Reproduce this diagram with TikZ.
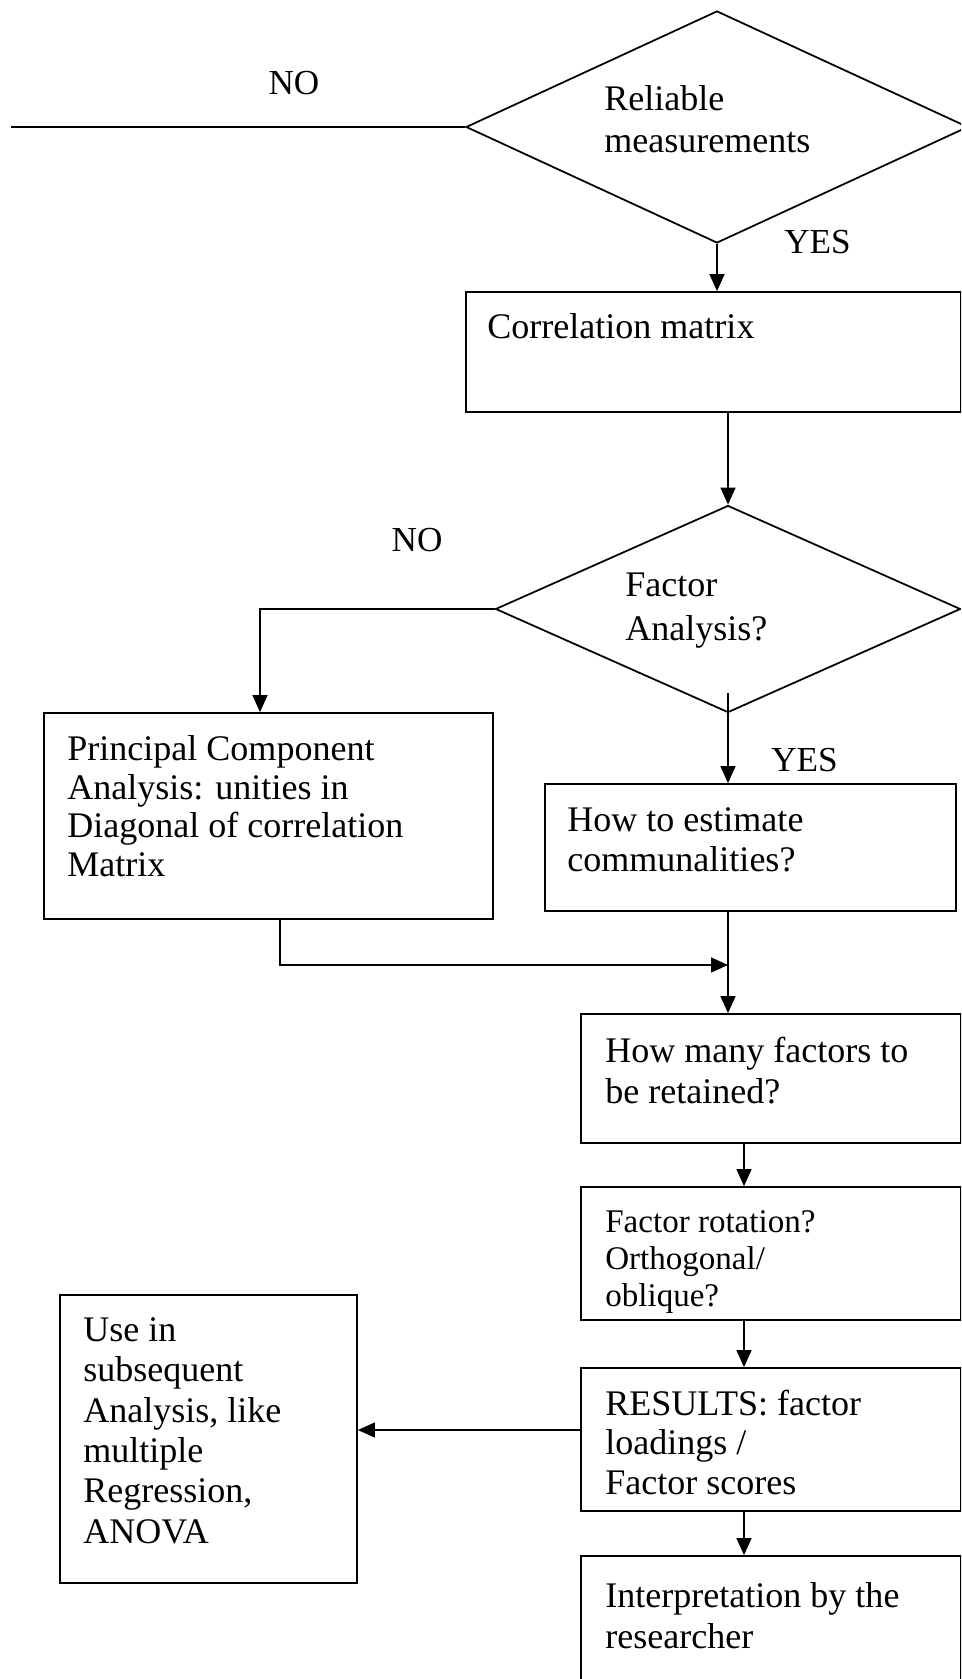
\documentclass[tikz,border=0pt]{standalone}
\usepackage{fontspec}
\setmainfont{Liberation Serif}
\usetikzlibrary{shapes.geometric, arrows.meta}

\begin{document}
\begin{tikzpicture}[
    box/.style={draw, line width=1pt, inner sep=0pt},
    dia/.style={draw, diamond, line width=1pt, inner sep=0pt},
    txt/.style={anchor=north west, align=left, inner sep=0pt, font=\fontsize{20.5}{23}\selectfont},
    lbl/.style={inner sep=0pt, font=\fontsize{20}{23}\selectfont},
    arr/.style={line width=0.8pt, -{Triangle[length=3.4mm, width=3mm]}}
]
    % Page size
    \useasboundingbox (0,0) rectangle (19.22,-33.58);
    \clip (0,0) rectangle (19.22,-33.58);
    % Decisions
    \node[dia, minimum width=10.04cm, minimum height=4.64cm] (rel) at (14.34,-2.54) {};
    \node[dia, minimum width=9.3cm, minimum height=4.14cm] (fa) at (14.56,-12.18) {};
    % Boxes
    \node[box, minimum width=9.9cm, minimum height=2.4cm] (corr) at (14.27,-7.04) {};
    \node[box, minimum width=8.98cm, minimum height=4.12cm] (pca) at (5.37,-16.32) {};
    \node[box, minimum width=8.22cm, minimum height=2.54cm] (est) at (15.01,-16.95) {};
    \node[box, minimum width=7.6cm, minimum height=2.58cm] (many) at (15.42,-21.57) {};
    \node[box, minimum width=7.6cm, minimum height=2.66cm] (rot) at (15.42,-25.07) {};
    \node[box, minimum width=7.6cm, minimum height=2.86cm] (res) at (15.42,-28.79) {};
    \node[box, minimum width=5.94cm, minimum height=5.76cm] (use) at (4.17,-28.78) {};
    \node[box, minimum width=7.6cm, minimum height=2.88cm] (interp) at (15.42,-32.56) {};
    % Texts
    \node[txt, font=\fontsize{20.5}{24}\selectfont] (relT) at (12.08,-1.7) {Reliable\\measurements};
    \node[txt] (corrT) at (9.74,-6.26) {Correlation matrix};
    \node[txt, font=\fontsize{20.5}{25}\selectfont] (faT) at (12.5,-11.46) {Factor\\Analysis?};
    \node[txt, font=\fontsize{20.5}{22}\selectfont] (pcaT) at (1.34,-14.7) {Principal Component\\Analysis: unities in\\Diagonal of correlation\\Matrix};
    \node[txt] (estT) at (11.34,-16.14) {How to estimate\\communalities?};
    \node[txt] (manyT) at (12.1,-20.74) {How many factors to\\be retained?};
    \node[txt, font=\fontsize{18.8}{21}\selectfont] (rotT) at (12.1,-24.2) {Factor rotation?\\Orthogonal/\\oblique?};
    \node[txt, font=\fontsize{20.5}{22.3}\selectfont] (resT) at (12.1,-27.8) {RESULTS: factor\\loadings /\\Factor scores};
    \node[txt] (useT) at (1.66,-26.34) {Use in\\subsequent\\Analysis, like\\multiple\\Regression,\\ANOVA};
    \node[txt] (interpT) at (12.1,-31.65) {Interpretation by the\\researcher};
    \node[lbl] (no1) at (5.88,-1.66) {NO};
    \node[lbl] (no2) at (8.34,-10.8) {NO};
    \node[lbl, anchor=west] (yes1) at (15.68,-4.84) {YES};
    \node[lbl, anchor=west] (yes2) at (15.42,-15.2) {YES};
    % Connectors
    \coordinate (noEnd) at (0.22,-2.54);
    \coordinate (merge) at (14.56,-19.3);
    \draw[line width=0.8pt] (rel.west) -- (noEnd);
    \draw[arr] (rel.south) -- (rel.south |- corr.north);
    \draw[arr] (fa.north |- corr.south) -- (fa.north);
    \draw[arr] (fa.west) -| ([xshift=-0.17cm]pca.north);
    \draw[arr] ([yshift=0.4cm]fa.south) -- (fa.south |- est.north);
    \draw[arr] ([xshift=0.23cm]pca.south) |- (merge);
    \draw[arr] (merge |- est.south) -- (merge |- many.north);
    \draw[arr] ([xshift=-0.54cm]many.south) -- ([xshift=-0.54cm]rot.north);
    \draw[arr] ([xshift=-0.54cm]rot.south) -- ([xshift=-0.54cm]res.north);
    \draw[arr] ([xshift=-0.54cm]res.south) -- ([xshift=-0.54cm]interp.north);
    \draw[arr] ([yshift=0.19cm]res.west) -- ([yshift=0.19cm]res.west -| use.east);
\end{tikzpicture}
\end{document}
